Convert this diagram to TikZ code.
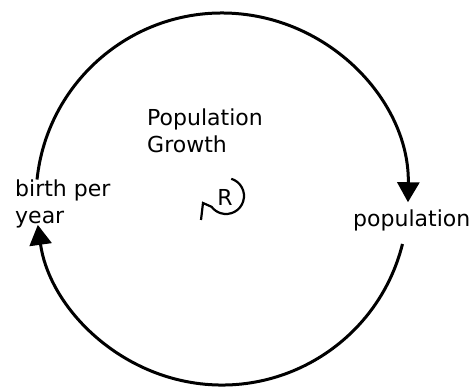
\documentclass[tikz,border=0pt]{standalone}
\usepackage{fontspec}
\setmainfont{DejaVu Sans}
\usetikzlibrary{arrows.meta,calc,positioning}

\begin{document}
\begin{tikzpicture}[
  x=1pt, y=1pt,
  varname/.style={font=\fontsize{22}{27}\selectfont,align=left,inner sep=0pt},
  link/.style={line width=3pt,-{Triangle[length=20pt,width=22pt]}},
  loopsign/.style={line width=2.2pt}
]
  \useasboundingbox (0,0) rectangle (471,390);
  \coordinate (C) at (222,191);

  \node[varname,anchor=base west] (birth) at (15,166) {birth per\\year};
  \node[varname,anchor=base west] (pop) at (353,163) {population};
  \node[varname,anchor=base west] (growth) at (147,237) {Population\\Growth};
  \node[varname] (R) at (225,193) {R};

  % points where the loop leaves and meets the variables
  \coordinate (birth-out) at ($(C)+(174:186)$);
  \coordinate (pop-out) at ($(C)+(-14:186)$);

  \draw[link] (birth-out) arc[start angle=174,end angle=-1,radius=186];
  \draw[link] (pop-out) arc[start angle=-14,end angle=-172,radius=186];

  % reinforcing loop marker
  \coordinate (Rc) at (226,194);
  \draw[loopsign] ($(Rc)+(73:18)$) arc[start angle=73,end angle=-143,radius=18]
    -- (203,187) -- (201,170);
\end{tikzpicture}
\end{document}
